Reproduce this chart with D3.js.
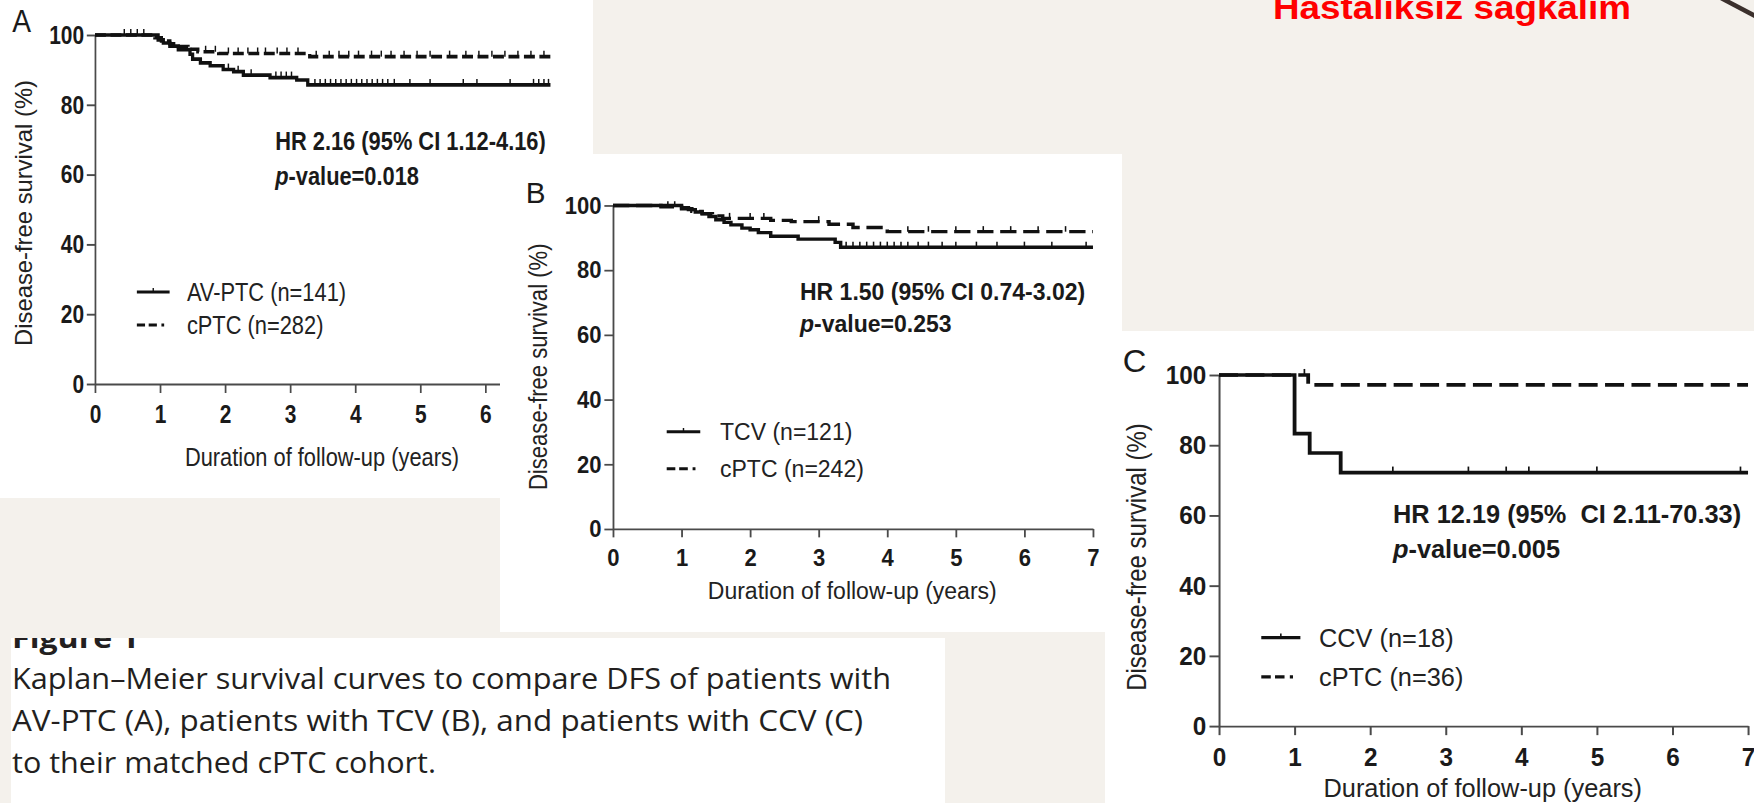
<!DOCTYPE html>
<html>
<head>
<meta charset="utf-8">
<script src="https://cdn.jsdelivr.net/npm/d3@7"></script>
<style>
  body { margin: 0; background: #f4f1ec; }
  svg { display: block; }
  text { font-family: "Liberation Sans", Arial, sans-serif; fill: #1a1a1a; }
</style>
</head>
<body>
<svg id="chart" width="1754" height="803"></svg>
<script>
// ---- data ----
var xTicks = [0, 1, 2, 3, 4, 5, 6, 7];
var yTicks = [0, 20, 40, 60, 80, 100];
var followUpEnd = 7;

// Panel A: AV-PTC vs cPTC
var aAvTime = [0.97, 1.05, 1.15, 1.28, 1.46, 1.5, 1.62, 1.77, 1.97, 2.13, 2.28, 2.69, 3.1, 3.27];
var aAvSurv = [98.6, 97.7, 96.8, 95.8, 94.5, 93.1, 92.0, 91.2, 90.1, 89.5, 88.5, 87.8, 87.1, 85.7];
var aAvCens = [2.05, 2.2, 2.4, 2.78, 2.86, 2.94, 3.02, 3.38, 3.46, 3.54, 3.62, 3.7, 3.78, 3.86, 3.94, 4.02, 4.1, 4.18, 4.26, 4.34, 4.42, 4.5, 4.6, 4.84, 5.15, 5.66, 5.87, 6.38, 6.74, 6.82, 6.9, 6.97];
var aCpTime = [0.92, 1.02, 1.15, 1.28, 1.43, 1.58, 1.9, 3.3];
var aCpSurv = [99.2, 98.3, 97.5, 96.7, 95.9, 95.2, 94.7, 93.8];
var aCpCens = [0.45, 0.55, 0.65, 0.75, 1.7, 1.85, 2.05, 2.2, 2.35, 2.5, 2.62, 2.8, 2.95, 3.12, 3.4, 3.6, 3.75, 3.9, 4.05, 4.25, 4.4, 4.55, 4.75, 4.95, 5.15, 5.45, 5.7, 5.9, 6.1, 6.3, 6.5, 6.7, 6.9];

// Panel B: TCV vs cPTC
var bTcvTime = [1.0, 1.1, 1.2, 1.3, 1.4, 1.5, 1.62, 1.72, 1.88, 2.0, 2.12, 2.3, 2.7, 3.24, 3.32];
var bTcvSurv = [99.3, 98.7, 98.0, 97.4, 96.6, 95.6, 94.8, 94.0, 93.0, 92.5, 91.6, 90.5, 89.6, 88.6, 87.1];
var bTcvCens = [3.4, 3.5, 3.6, 3.7, 3.8, 3.9, 4.0, 4.1, 4.2, 4.3, 4.45, 4.6, 4.8, 5.0, 5.3, 5.6, 6.0, 6.4, 6.9];
var bCpTime = [0.7, 1.0, 1.15, 1.3, 1.45, 1.6, 2.3, 2.6, 3.15, 3.5, 4.0];
var bCpSurv = [99.6, 99.0, 98.2, 97.5, 96.8, 96.0, 95.4, 95.0, 94.2, 93.2, 91.9];
var bCpCens = [0.8, 0.9, 1.7, 2.0, 2.2, 3.0, 4.3, 4.6, 5.0, 5.4, 5.8, 6.2, 6.6];

// Panel C: CCV vs cPTC
var cCcvTime = [1.0, 1.2, 1.61];
var cCcvSurv = [83.3, 77.8, 72.2];
var cCcvCens = [2.3, 3.3, 3.8, 4.1, 5.0, 6.9];
var cCpTime = [1.18];
var cCpSurv = [97.2];
var cCpCens = [1.13];

var legendLabels = [["AV-PTC (n=141)", "cPTC (n=282)"], ["TCV (n=121)", "cPTC (n=242)"], ["CCV (n=18)", "cPTC (n=36)"]];
var hrLabels = ["HR 2.16 (95% CI 1.12-4.16)", "HR 1.50 (95% CI 0.74-3.02)", "HR 12.19 (95%  CI 2.11-70.33)"];
var pLabels = ["-value=0.018", "-value=0.253", "-value=0.005"];
var captionLines = [
  "Kaplan\u2013Meier survival curves to compare DFS of patients with",
  "AV-PTC (A), patients with TCV (B), and patients with CCV (C)",
  "to their matched cPTC cohort."
];

// ---- layout ----
var yearW = 71.5, plotH = 349;
var panels = [
  { letter: "A", box: [0, 0, 593, 498], origin: [95, 35], sx: 0.91, sy: 1,
    hr: [198, 115], leg: [46, 82, 101, 257, 290], dash: "12,5", xTitleY: 431, yTitleY: 178,
    solid: [aAvTime, aAvSurv, aAvCens], dashed: [aCpTime, aCpSurv, aCpCens] },
  { letter: "B", box: [500, 154, 622, 478], origin: [613, 205.5], sx: 0.959, sy: 0.927,
    hr: [195, 102], leg: [56, 91, 111.6, 244, 284], dash: "17,7", xTitleY: 424, yTitleY: 174,
    solid: [bTcvTime, bTcvSurv, bTcvCens], dashed: [bCpTime, bCpSurv, bCpCens] },
  { letter: "C", box: [1105, 331, 649, 472], origin: [1219, 375], sx: 1.057, sy: 1.006,
    hr: [164.6, 147], leg: [40, 77, 94.6, 261, 300], dash: "18,7", xTitleY: 419, yTitleY: 181,
    solid: [cCcvTime, cCcvSurv, cCcvCens], dashed: [cCpTime, cCpSurv, cCpCens] }
];

var svg = d3.select("#chart");
svg.append("rect").attr("width", 1754).attr("height", 803).attr("fill", "#f4f1ec");

// measure text at its natural size, then enlarge it while keeping that width
function condense(sel, size) {
  sel.each(function() {
    var w = this.getComputedTextLength();
    d3.select(this)
      .attr("textLength", w).attr("lengthAdjust", "spacingAndGlyphs")
      .style("font-size", size + "px");
  });
}

// red title, mostly cut off at the top edge
svg.append("text")
  .attr("x", 1273).attr("y", 19)
  .attr("textLength", 358).attr("lengthAdjust", "spacingAndGlyphs")
  .style("font-size", "34px").style("font-weight", "bold").style("fill", "#ff0000")
  .text("Hastalıksız sağkalım");

svg.append("path")
  .attr("d", "M1721,-2 L1757,17")
  .attr("stroke", "#3b302c").attr("stroke-width", 4.5).attr("fill", "none");

function survAt(times, surv, t) {
  var i = d3.bisectRight(times, t);
  return i === 0 ? 100 : surv[i - 1];
}

function kmPoints(times, surv) {
  var pts = [[0, 100]];
  times.forEach(function(t, i) { pts.push([t, surv[i]]); });
  pts.push([followUpEnd, surv[surv.length - 1]]);
  return pts;
}

panels.forEach(function(p, pi) {
  svg.append("rect")
    .attr("x", p.box[0]).attr("y", p.box[1])
    .attr("width", p.box[2]).attr("height", p.box[3])
    .attr("fill", "#fff");

  var g = svg.append("g")
    .attr("transform", "translate(" + p.origin[0] + "," + p.origin[1] + ") scale(" + p.sx + "," + p.sy + ")");

  var x = d3.scaleLinear().domain([0, 7]).range([0, 7 * yearW]);
  var y = d3.scaleLinear().domain([0, 100]).range([plotH, 0]);

  var xAxis = g.append("g")
    .attr("transform", "translate(0," + plotH + ")")
    .call(d3.axisBottom(x).tickValues(xTicks).tickSize(9).tickPadding(12).tickSizeOuter(0).tickFormat(d3.format("d")));
  var yAxis = g.append("g")
    .call(d3.axisLeft(y).tickValues(yTicks).tickSize(9).tickPadding(3).tickSizeOuter(0).tickFormat(d3.format("d")));

  [xAxis, yAxis].forEach(function(ax) {
    ax.select(".domain").attr("stroke", "#4a4a4a").attr("stroke-width", 1.9);
    ax.selectAll(".tick line").attr("stroke", "#4a4a4a").attr("stroke-width", 1.9);
    var tt = ax.selectAll(".tick text")
      .style("font-family", "'Liberation Sans', Arial, sans-serif")
      .style("font-size", "23px").style("font-weight", "bold").attr("fill", "#1a1a1a");
    condense(tt, 26);
  });

  // panel letter
  g.append("text").attr("x", -91).attr("y", -3)
    .style("font-size", "31px").text(p.letter);

  // axis titles
  condense(g.append("text")
    .attr("x", 249.5).attr("y", p.xTitleY).attr("text-anchor", "middle")
    .style("font-size", "24px").style("fill", "#222")
    .text("Duration of follow-up (years)"), 26);
  g.append("text")
    .attr("transform", "translate(-69," + p.yTitleY + ") rotate(-90)")
    .attr("text-anchor", "middle")
    .attr("textLength", 266).attr("lengthAdjust", "spacingAndGlyphs")
    .style("font-size", "26px").style("fill", "#222")
    .text("Disease-free survival (%)");

  var line = d3.line()
    .x(function(d) { return x(d[0]); })
    .y(function(d) { return y(d[1]); })
    .curve(d3.curveStepAfter);

  [[p.dashed, p.dash], [p.solid, null]].forEach(function(s) {
    var times = s[0][0], surv = s[0][1], cens = s[0][2];
    g.append("path")
      .datum(kmPoints(times, surv))
      .attr("d", line)
      .attr("fill", "none").attr("stroke", "#111").attr("stroke-width", 3.6)
      .attr("stroke-dasharray", s[1]);
    g.selectAll(null)
      .data(cens)
      .enter().append("line")
      .attr("x1", function(d) { return x(d); }).attr("x2", function(d) { return x(d); })
      .attr("y1", function(d) { return y(survAt(times, surv, d)); })
      .attr("y2", function(d) { return y(survAt(times, surv, d)) - 6; })
      .attr("stroke", "#111").attr("stroke-width", 1.6);
  });

  // HR annotation
  condense(g.append("text").attr("x", p.hr[0]).attr("y", p.hr[1])
    .style("font-size", "24px").style("font-weight", "bold").style("white-space", "pre")
    .text(hrLabels[pi]), 26.5);
  var pt = g.append("text").attr("x", p.hr[0]).attr("y", p.hr[1] + 35)
    .style("font-size", "24px").style("font-weight", "bold");
  pt.append("tspan").style("font-style", "italic").text("p");
  pt.append("tspan").text(pLabels[pi]);
  condense(pt, 26.5);

  // legend
  var lg = p.leg;
  g.append("line").attr("x1", lg[0]).attr("x2", lg[1]).attr("y1", lg[3]).attr("y2", lg[3])
    .attr("stroke", "#111").attr("stroke-width", 3.2);
  g.append("line").attr("x1", (lg[0] + lg[1]) / 2).attr("x2", (lg[0] + lg[1]) / 2)
    .attr("y1", lg[3]).attr("y2", lg[3] - 4).attr("stroke", "#111").attr("stroke-width", 1.5);
  g.append("line").attr("x1", lg[0]).attr("x2", lg[1]).attr("y1", lg[4]).attr("y2", lg[4])
    .attr("stroke", "#111").attr("stroke-width", 3.2).attr("stroke-dasharray", "9,4,9,5,3,20");
  legendLabels[pi].forEach(function(t, i) {
    condense(g.append("text").attr("x", lg[2]).attr("y", lg[3 + i]).attr("dy", "0.36em")
      .style("font-size", "24px").style("fill", "#222").text(t), 26);
  });
});

// caption block
svg.append("rect").attr("x", 11).attr("y", 638).attr("width", 934).attr("height", 165).attr("fill", "#fff");
svg.append("clipPath").attr("id", "capClip")
  .append("rect").attr("x", 0).attr("y", 638).attr("width", 960).attr("height", 165);
svg.append("text").attr("x", 12).attr("y", 648).attr("clip-path", "url(#capClip)")
  .attr("textLength", 127).attr("lengthAdjust", "spacingAndGlyphs")
  .style("font-family", "'Open Sans', sans-serif").style("font-weight", "bold")
  .style("font-size", "29px").style("fill", "#231f20")
  .text("Figure 1");

var capLengths = [879, 851, 424];
captionLines.forEach(function(t, i) {
  svg.append("text")
    .attr("x", 12).attr("y", 689 + i * 42)
    .attr("textLength", capLengths[i]).attr("lengthAdjust", "spacingAndGlyphs")
    .style("font-family", "'Open Sans', sans-serif").style("font-size", "29px").style("fill", "#231f20")
    .text(t);
});
</script>
</body>
</html>
